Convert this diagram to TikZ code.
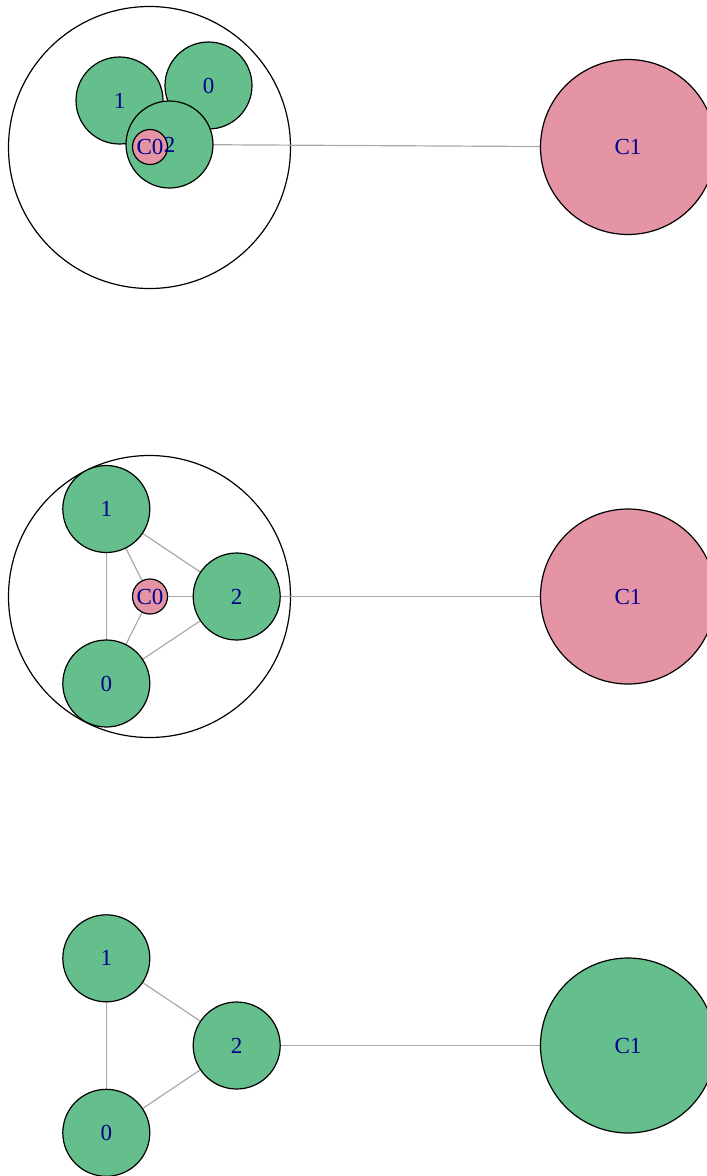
\documentclass[tikz,border=0pt]{standalone}
\usepackage{fontspec}
\setmainfont{Liberation Serif}
\definecolor{vgreen}{HTML}{64BF8D}
\definecolor{vpink}{HTML}{E494A5}
\definecolor{lblue}{HTML}{00008B}
\definecolor{egray}{HTML}{A9A9A9}
\tikzset{
  vbig/.style={circle,draw=black,line width=1.2pt,minimum size=175pt,inner sep=0pt},
  vmid/.style={circle,draw=black,line width=1.2pt,minimum size=87pt,inner sep=0pt},
  vsmall/.style={circle,draw=black,line width=1.2pt,minimum size=35pt,inner sep=0pt},
  grp/.style={circle,draw=black,line width=1.2pt,minimum size=282pt,inner sep=0pt},
  lbl/.style={text=lblue,font=\fontsize{23}{23}\selectfont,inner sep=0pt},
  edge/.style={draw=egray,line width=1.2pt},
}
\begin{document}
\begin{tikzpicture}[x=1pt,y=-1pt]
\useasboundingbox (0,0) rectangle (707,1176);
% ---------- top panel ----------
\node[grp] (G1) at (149.5,147.5) {};
\coordinate (t2c) at (169.5,144.5);
\coordinate (tC1c) at (628,147);
\draw[edge] (t2c) -- (tC1c);
\node[vmid,fill=vgreen] (t1) at (119.5,100.5) {};
\node[vmid,fill=vgreen] (t0) at (208.5,85.5) {};
\node[vmid,fill=vgreen] (t2) at (169.5,144.5) {};
\node[vsmall,fill=vpink] (tC0) at (150,147) {};
\node[vbig,fill=vpink] (tC1) at (628,147) {};
\node[lbl] at (t1) {1};
\node[lbl] at (t0) {0};
\node[lbl] at (t2) {2};
\node[lbl] at (tC0) {C0};
\node[lbl] at (tC1) {C1};
% ---------- middle panel ----------
\node[grp] (G2) at (149.5,596.5) {};
\coordinate (m1c) at (106.3,509);
\coordinate (m2c) at (236.7,596.5);
\coordinate (m0c) at (106.3,683.5);
\coordinate (mC0c) at (150,596.5);
\coordinate (mC1c) at (628,596.5);
\draw[edge] (m1c) -- (m2c);
\draw[edge] (m1c) -- (m0c);
\draw[edge] (m0c) -- (m2c);
\draw[edge] (mC0c) -- (m1c);
\draw[edge] (mC0c) -- (m0c);
\draw[edge] (mC0c) -- (m2c);
\draw[edge] (m2c) -- (mC1c);
\node[vmid,fill=vgreen] (m1) at (m1c) {};
\node[vmid,fill=vgreen] (m2) at (m2c) {};
\node[vmid,fill=vgreen] (m0) at (m0c) {};
\node[vsmall,fill=vpink] (mC0) at (mC0c) {};
\node[vbig,fill=vpink] (mC1) at (mC1c) {};
\node[lbl] at (m1) {1};
\node[lbl] at (m2) {2};
\node[lbl] at (m0) {0};
\node[lbl] at (mC0) {C0};
\node[lbl] at (mC1) {C1};
% ---------- bottom panel ----------
\coordinate (b1c) at (106.3,958.3);
\coordinate (b2c) at (236.7,1045.5);
\coordinate (b0c) at (106.3,1132.8);
\coordinate (bC1c) at (628,1045.5);
\draw[edge] (b1c) -- (b2c);
\draw[edge] (b1c) -- (b0c);
\draw[edge] (b0c) -- (b2c);
\draw[edge] (b2c) -- (bC1c);
\node[vmid,fill=vgreen] (b1) at (b1c) {};
\node[vmid,fill=vgreen] (b2) at (b2c) {};
\node[vmid,fill=vgreen] (b0) at (b0c) {};
\node[vbig,fill=vgreen] (bC1) at (bC1c) {};
\node[lbl] at (b1) {1};
\node[lbl] at (b2) {2};
\node[lbl] at (b0) {0};
\node[lbl] at (bC1) {C1};
\end{tikzpicture}
\end{document}
